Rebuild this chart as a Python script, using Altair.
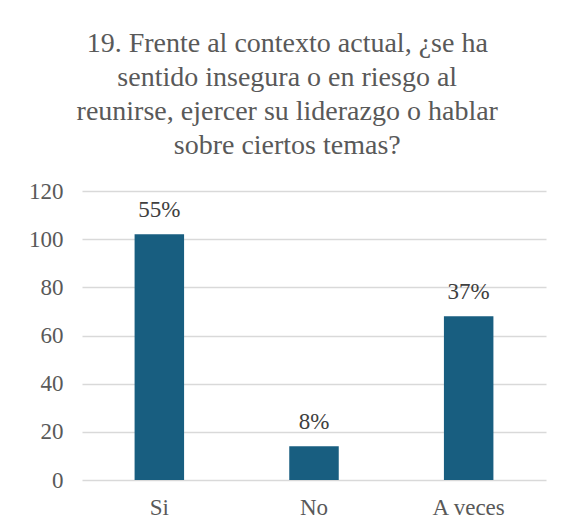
import altair as alt
import pandas as pd

categories = ["Si", "No", "A veces"]
values = [102, 14, 68]
labels = ["55%", "8%", "37%"]
title_lines = ["19. Frente al contexto actual, ¿se ha", "sentido insegura o en riesgo al",
               "reunirse, ejercer su liderazgo o hablar", "sobre ciertos temas?"]

df = pd.DataFrame({"cat": categories, "val": values, "lab": labels})

FONT = "Liberation Serif"
TXT = "#595959"

base = alt.Chart(df).encode(
    x=alt.X("cat:N", sort=categories, title=None,
            scale=alt.Scale(paddingInner=0.68, paddingOuter=0.34),
            axis=alt.Axis(labelAngle=0, labelFont=FONT, labelFontSize=23,
                          labelColor=TXT, ticks=False, domain=False,
                          labelPadding=16, grid=False)),
    y=alt.Y("val:Q", title=None,
            scale=alt.Scale(domain=[0, 120]),
            axis=alt.Axis(values=[0, 20, 40, 60, 80, 100, 120], labelFont=FONT,
                          labelFontSize=23, labelColor=TXT, ticks=False,
                          domain=False, labelPadding=19, gridColor="#d9d9d9",
                          gridWidth=1.3)),
)

bars = base.mark_bar(color="#185e80")
text = base.mark_text(dy=-24, font=FONT, fontSize=23, color="#404040").encode(text="lab:N")

chart = (bars + text).properties(
    width=464, height=289,
    title=alt.TitleParams(
        title_lines, font=FONT, fontSize=28, fontWeight="normal", color=TXT,
        anchor="middle", frame="bounds", lineHeight=34, offset=20),
    padding={"left": 20, "top": 22, "right": 22, "bottom": 10},
).configure(background="white").configure_view(stroke=None)

chart.save("out.html", embed_options={"renderer": "svg", "actions": False})
